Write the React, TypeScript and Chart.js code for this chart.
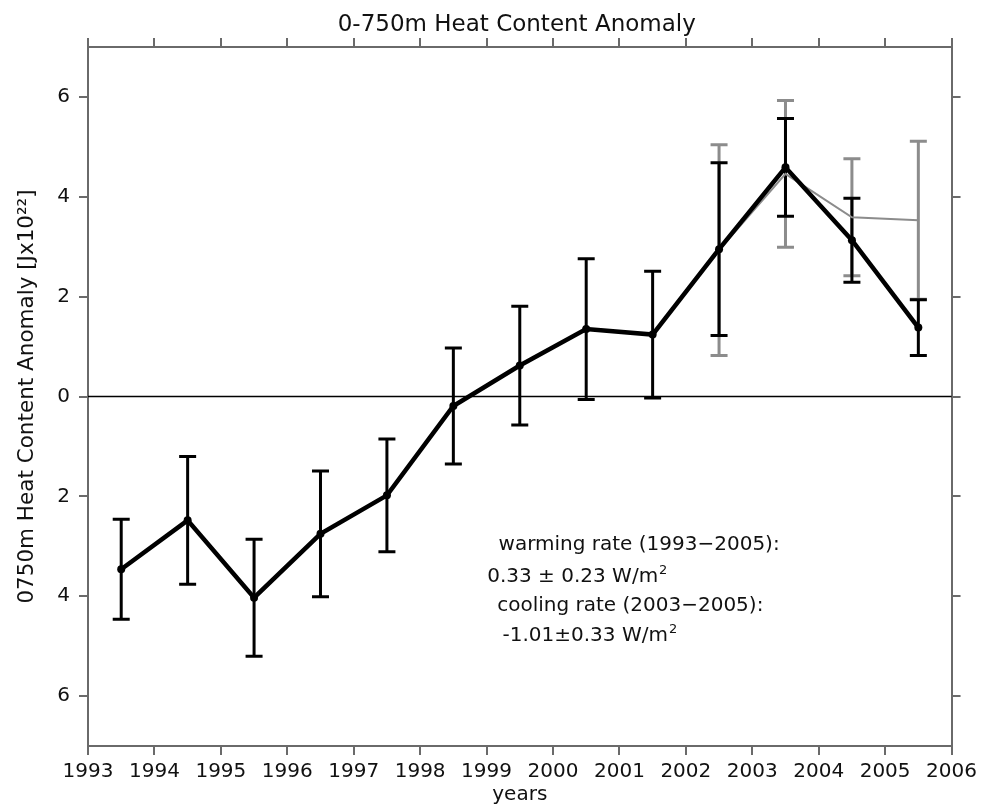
import React, { useEffect, useRef } from "react";
import { Chart, registerables } from "chart.js";

Chart.register(...registerables);

// ---- data ----
const years = [1993.5, 1994.5, 1995.5, 1996.5, 1997.5, 1998.5, 1999.5, 2000.5, 2001.5, 2002.5, 2003.5, 2004.5, 2005.5];
const heatContent = [-3.46, -2.48, -4.03, -2.75, -1.98, -0.19, 0.62, 1.35, 1.24, 2.95, 4.59, 3.13, 1.38];
const heatError = [1.0, 1.28, 1.17, 1.26, 1.13, 1.16, 1.19, 1.41, 1.27, 1.73, 0.98, 0.84, 0.56];

const altYears = [2002.5, 2003.5, 2004.5, 2005.5];
const altHeatContent = [2.93, 4.46, 3.59, 3.53];
const altError = [2.11, 1.47, 1.17, 1.58];

const xTickValues = [1993, 1994, 1995, 1996, 1997, 1998, 1999, 2000, 2001, 2002, 2003, 2004, 2005, 2006];
const xTickLabels = ["1993", "1994", "1995", "1996", "1997", "1998", "1999", "2000", "2001", "2002", "2003", "2004", "2005", "2006"];
const yTickValues = [-6, -4, -2, 0, 2, 4, 6];
const yTickLabels = ["6", "4", "2", "0", "2", "4", "6"];

const chartTitle = "0-750m Heat Content Anomaly";
const yAxisTitle = "0750m Heat Content Anomaly [Jx10\u00B2\u00B2]";
const xAxisTitle = "years";

const annotationText = [
  "warming rate (1993\u22122005):",
  "0.33 \u00B1 0.23 W/m",
  "cooling rate (2003\u22122005):",
  "-1.01\u00B10.33 W/m",
];
const annotationSup = ["", "2", "", "2"];
// anchor of each annotation line, in data units (year, anomaly)
const annotationAnchorX = [1999.18, 1999.01, 1999.16, 1999.24];
const annotationAnchorY = [-3.07, -3.71, -4.29, -4.89];

const FONT = "'DejaVu Sans', 'Liberation Sans', sans-serif";

function drawErrorBars(ctx: CanvasRenderingContext2D, xs: any, ys: any, xv: number[], yv: number[], ev: number[], color: string, width: number) {
  ctx.strokeStyle = color;
  ctx.lineWidth = width;
  const cap = 8.5;
  for (let i = 0; i < xv.length; i++) {
    const px = xs.getPixelForValue(xv[i]);
    const top = ys.getPixelForValue(yv[i] + ev[i]);
    const bot = ys.getPixelForValue(yv[i] - ev[i]);
    ctx.beginPath();
    ctx.moveTo(px, top);
    ctx.lineTo(px, bot);
    ctx.moveTo(px - cap, top);
    ctx.lineTo(px + cap, top);
    ctx.moveTo(px - cap, bot);
    ctx.lineTo(px + cap, bot);
    ctx.stroke();
  }
}

const decorPlugin = {
  id: "decor",
  beforeDatasetsDraw(chart: any) {
    const { ctx, chartArea, scales } = chart;
    const xs = scales.x;
    const ys = scales.y;
    ctx.save();
    const y0 = ys.getPixelForValue(0);
    ctx.strokeStyle = "#000";
    ctx.lineWidth = 1.5;
    ctx.beginPath();
    ctx.moveTo(chartArea.left, y0);
    ctx.lineTo(chartArea.right, y0);
    ctx.stroke();
    drawErrorBars(ctx, xs, ys, altYears, altHeatContent, altError, "#8c8c8c", 3);
    drawErrorBars(ctx, xs, ys, years, heatContent, heatError, "#000", 3);
    ctx.restore();
  },
  afterDraw(chart: any) {
    const { ctx, chartArea, scales } = chart;
    const xs = scales.x;
    const ys = scales.y;
    ctx.save();
    ctx.fillStyle = "#111";
    ctx.textBaseline = "alphabetic";
    ctx.textAlign = "center";
    ctx.font = `23px ${FONT}`;
    ctx.fillText(chartTitle, (chartArea.left + chartArea.right) / 2 - 3, 31);

    ctx.textAlign = "left";
    for (let i = 0; i < annotationText.length; i++) {
      const px = xs.getPixelForValue(annotationAnchorX[i]);
      const py = ys.getPixelForValue(annotationAnchorY[i]);
      ctx.font = `20px ${FONT}`;
      ctx.fillText(annotationText[i], px, py);
      if (annotationSup[i]) {
        const w = ctx.measureText(annotationText[i]).width;
        ctx.font = `13px ${FONT}`;
        ctx.fillText(annotationSup[i], px + w + 1, py - 8);
      }
    }
    ctx.restore();
  },
};

const axisColor = "#6a6a6a";

export default function App() {
  const canvasRef = useRef<HTMLCanvasElement | null>(null);

  useEffect(() => {
    if (!canvasRef.current) return;
    const gridOpts = {
      drawOnChartArea: false,
      drawTicks: true,
      tickLength: 9,
      color: axisColor,
      lineWidth: 2,
    };
    const borderOpts = { color: axisColor, width: 2 };
    const setXTicks = (scale: any) => {
      scale.ticks = xTickValues.map((v) => ({ value: v }));
    };
    const setYTicks = (scale: any) => {
      scale.ticks = yTickValues.map((v) => ({ value: v }));
    };

    const chart = new Chart(canvasRef.current, {
      type: "line",
      data: {
        datasets: [
          {
            data: years.map((x, i) => ({ x, y: heatContent[i] })),
            borderColor: "#000",
            backgroundColor: "#000",
            borderWidth: 4.5,
            pointRadius: 4,
            pointBackgroundColor: "#000",
            pointBorderWidth: 0,
            tension: 0,
          },
          {
            data: altYears.map((x, i) => ({ x, y: altHeatContent[i] })),
            borderColor: "#8c8c8c",
            borderWidth: 2,
            pointRadius: 0,
            tension: 0,
          },
        ],
      },
      options: {
        responsive: false,
        animation: false,
        layout: { padding: 0 },
        plugins: {
          legend: { display: false },
          tooltip: { enabled: false },
          title: { display: false },
        },
        scales: {
          x: {
            type: "linear",
            position: "bottom",
            min: 1993,
            max: 2006,
            afterBuildTicks: setXTicks,
            afterFit: (s: any) => { s.height = 61; },
            grid: gridOpts,
            border: borderOpts,
            ticks: {
              autoSkip: false,
              maxRotation: 0,
              padding: 5,
              color: "#111",
              font: { family: FONT, size: 20 },
              callback: (v: any) => {
                const i = xTickValues.indexOf(Number(v));
                return i >= 0 ? xTickLabels[i] : "";
              },
            },
            title: {
              display: true,
              text: xAxisTitle,
              color: "#111",
              font: { family: FONT, size: 20 },
              padding: { top: 0, bottom: 0 },
            },
          },
          x2: {
            type: "linear",
            position: "top",
            min: 1993,
            max: 2006,
            afterBuildTicks: setXTicks,
            afterFit: (s: any) => { s.height = 47; },
            grid: gridOpts,
            border: borderOpts,
            ticks: { display: false },
          },
          y: {
            type: "linear",
            position: "left",
            min: -7,
            max: 7,
            afterBuildTicks: setYTicks,
            afterFit: (s: any) => { s.width = 88; },
            grid: gridOpts,
            border: borderOpts,
            ticks: {
              padding: 9,
              color: "#111",
              font: { family: FONT, size: 20 },
              callback: (v: any) => {
                const i = yTickValues.indexOf(Number(v));
                return i >= 0 ? yTickLabels[i] : "";
              },
            },
            title: {
              display: true,
              text: yAxisTitle,
              color: "#111",
              font: { family: FONT, size: 21.5 },
              padding: { top: 15, bottom: 0 },
            },
          },
          y2: {
            type: "linear",
            position: "right",
            min: -7,
            max: 7,
            afterBuildTicks: setYTicks,
            afterFit: (s: any) => { s.width = 29; },
            grid: gridOpts,
            border: borderOpts,
            ticks: { display: false },
          },
        },
      } as any,
      plugins: [decorPlugin],
    });
    return () => chart.destroy();
  }, []);

  return (
    <div style={{ position: "absolute", left: 0, top: 0, width: 982, height: 807, background: "#fff" }}>
      <canvas ref={canvasRef} width={982} height={807} style={{ display: "block", width: 982, height: 807 }} />
    </div>
  );
}
